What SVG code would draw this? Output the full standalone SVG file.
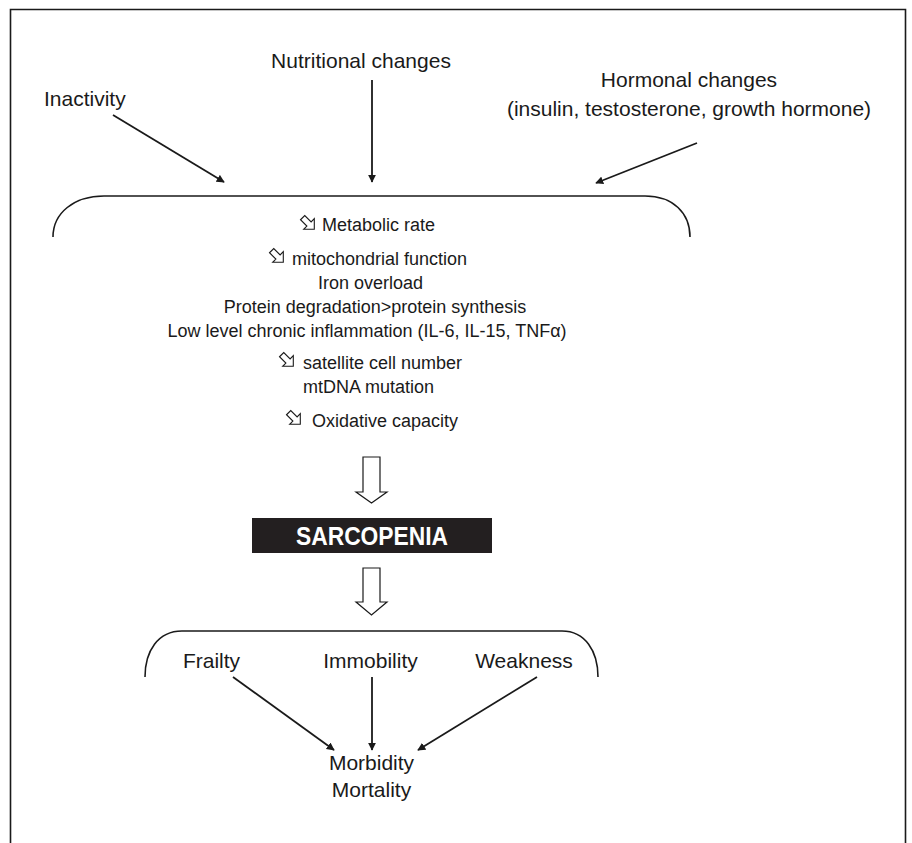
<svg xmlns="http://www.w3.org/2000/svg" width="912" height="843" viewBox="0 0 912 843">
<style>
  .lbl { font-family: "Liberation Sans", Arial, sans-serif; font-size: 21px; fill: #1a1a1a; }
  .inner { font-family: "Liberation Sans", Arial, sans-serif; font-size: 18px; fill: #1a1a1a; }
  .mid { text-anchor: middle; }
  .line { stroke: #1a1a1a; stroke-width: 1.6; fill: none; }
  .conn { stroke: #1a1a1a; stroke-width: 1.8; fill: none; marker-end: url(#ah); }
  .hollow { fill: #ffffff; stroke: #1a1a1a; stroke-width: 1.2; stroke-linejoin: miter; }
  .dec { fill: #ffffff; stroke: #1a1a1a; stroke-width: 1.1; }
</style>
<defs>
  <marker id="ah" viewBox="0 0 10 10" refX="9" refY="5" markerWidth="8" markerHeight="8" orient="auto" markerUnits="userSpaceOnUse">
    <path d="M0,0 L10,5 L0,10 Z" fill="#1a1a1a"/>
  </marker>
  <path id="decr" d="M-3,-9 L3,-9 L3,0 L7.5,0 L0,7.5 L-7.5,0 L-3,0 Z"/>
</defs>
<rect width="912" height="843" fill="#ffffff"/>
<path class="line" d="M10.5,843 V9.5 H905.5 V843" stroke="#222"/>

<g id="inactivity"><text class="lbl" x="44" y="106">Inactivity</text></g>
<g id="nutritional"><text class="lbl mid" x="361" y="68">Nutritional changes</text></g>
<g id="hormonal">
  <text class="lbl mid" x="689" y="87">Hormonal changes</text>
  <text class="lbl mid" x="689" y="116">(insulin, testosterone, growth hormone)</text>
</g>

<g id="mechanisms">
  <path class="line" d="M53,237 C53,213 74,196 104,196 H645 C673,196 690,213 690,237"/>
  <use href="#decr" class="dec" transform="translate(309,224) rotate(-45)"/>
  <text class="inner" x="322" y="231">Metabolic rate</text>
  <use href="#decr" class="dec" transform="translate(278,257) rotate(-45)"/>
  <text class="inner" x="292" y="265">mitochondrial function</text>
  <text class="inner mid" x="370.5" y="289">Iron overload</text>
  <text class="inner mid" x="375" y="313">Protein degradation&gt;protein synthesis</text>
  <text class="inner mid" x="367" y="337">Low level chronic inflammation (IL-6, IL-15, TNFα)</text>
  <use href="#decr" class="dec" transform="translate(288,361) rotate(-45)"/>
  <text class="inner" x="303" y="369">satellite cell number</text>
  <text class="inner" x="303" y="393">mtDNA mutation</text>
  <use href="#decr" class="dec" transform="translate(295,419) rotate(-45)"/>
  <text class="inner" x="312" y="427">Oxidative capacity</text>
</g>

<g id="sarcopenia">
  <rect x="252" y="518" width="240" height="35" fill="#231f20"/>
  <text x="372" y="545" text-anchor="middle" textLength="152" lengthAdjust="spacingAndGlyphs" font-family="Liberation Sans, Arial, sans-serif" font-weight="bold" font-size="25" fill="#ffffff">SARCOPENIA</text>
</g>

<g id="outcomes">
  <path class="line" d="M145,677 C145,651 158,631 182,631 H562 C585,631 598,651 598,677"/>
  <text class="lbl mid" x="211.5" y="668">Frailty</text>
  <text class="lbl mid" x="370.5" y="668">Immobility</text>
  <text class="lbl mid" x="524" y="668">Weakness</text>
</g>

<g id="morbidity">
  <text class="lbl mid" x="371.5" y="770">Morbidity</text>
  <text class="lbl mid" x="371.5" y="797">Mortality</text>
</g>

<g id="connectors">
  <line class="conn" x1="113" y1="115" x2="224" y2="182"/>
  <line class="conn" x1="372" y1="80" x2="372" y2="182"/>
  <line class="conn" x1="697" y1="143" x2="596" y2="183"/>
  <polygon class="hollow" points="363,457 380,457 380,492 387,492 371.5,503 356,492 363,492"/>
  <polygon class="hollow" points="363,568 380,568 380,602 387,602 371.5,615 356,602 363,602"/>
  <line class="conn" x1="233" y1="677" x2="334" y2="750"/>
  <line class="conn" x1="372" y1="677" x2="372" y2="750"/>
  <line class="conn" x1="537" y1="677" x2="418" y2="750"/>
</g>
</svg>
